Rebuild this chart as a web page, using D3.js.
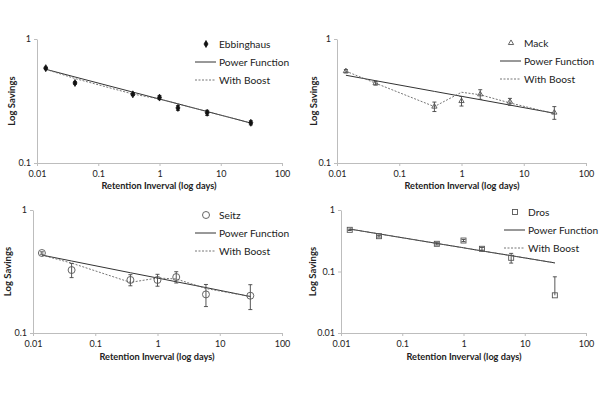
<!DOCTYPE html>
<html><head><meta charset="utf-8">
<script src="https://cdn.jsdelivr.net/npm/d3@7"></script>
<style>body{margin:0;background:#fff}svg{display:block}text{font-family:Lato,"Open Sans",sans-serif;fill:#222}</style>
</head><body><svg id="c" width="600" height="398"></svg>
<script>
const days = [0.0139, 0.0417, 0.367, 1, 2, 6, 31];
const xTicks = [0.01, 0.1, 1, 10, 100];
const xTickLabels = ["0.01", "0.1", "1", "10", "100"];

const ebbSavings = [0.582, 0.442, 0.358, 0.337, 0.278, 0.254, 0.211];
const ebbErr     = [0.01, 0.01, 0.008, 0.012, 0.012, 0.012, 0.008];
const ebbPower   = [0.570, 0.494, 0.373, 0.328, 0.300, 0.260, 0.210];
const ebbBoost   = [0.570, 0.480, 0.360, 0.328, 0.300, 0.260, 0.210];

const mackSavings = [0.55, 0.44, 0.285, 0.316, 0.358, 0.312, 0.255];
const mackErr     = [0.017, 0.015, 0.025, 0.028, 0.032, 0.02, 0.03];
const mackPower   = [0.510, 0.461, 0.378, 0.345, 0.324, 0.293, 0.252];
const mackBoost   = [0.550, 0.440, 0.285, 0.372, 0.355, 0.305, 0.250];

const seitzSavings = [0.447, 0.325, 0.27, 0.27, 0.285, 0.206, 0.201];
const seitzErr     = [0.01, 0.043, 0.028, 0.03, 0.03, 0.042, 0.046];
const seitzPower   = [0.430, 0.385, 0.309, 0.280, 0.261, 0.234, 0.198];
const seitzBoost   = [0.430, 0.370, 0.258, 0.280, 0.275, 0.230, 0.198];

const drosSavings = [0.476, 0.375, 0.282, 0.319, 0.234, 0.167, 0.041];
const drosErr     = [0.012, 0.012, 0.012, 0.012, 0.012, 0.03, 0.041];
const drosPower   = [0.490, 0.409, 0.286, 0.243, 0.216, 0.181, 0.138];
const drosBoost   = [0.490, 0.409, 0.286, 0.243, 0.216, 0.181, 0.138];

const legendLabels = ["Power Function", "With Boost"];
const xTitle = "Retention Inverval (log days)";
const yTitle = "Log Savings";

const panels = [
  {name:"Ebbinghaus", sym:"diamond", fill:"#111", stroke:"#111", vals:ebbSavings, err:ebbErr, power:ebbPower, boost:ebbBoost,
   x0:37, x1:282, yTop:39, yBot:163, yDomain:[0.1,1], yTicks:[0.1,1], yTickLabels:["0.1","1"], ytX:12, xtY:189, xtX:159, lx:195, ly:44},
  {name:"Mack", sym:"triangle", fill:"none", stroke:"#555", vals:mackSavings, err:mackErr, power:mackPower, boost:mackBoost,
   x0:337, x1:586, yTop:39, yBot:163, yDomain:[0.1,1], yTicks:[0.1,1], yTickLabels:["0.1","1"], ytX:314, xtY:189, xtX:462, lx:500, ly:43},
  {name:"Seitz", sym:"circle", fill:"none", stroke:"#555", vals:seitzSavings, err:seitzErr, power:seitzPower, boost:seitzBoost,
   x0:33, x1:282, yTop:210, yBot:333, yDomain:[0.1,1], yTicks:[0.1,1], yTickLabels:["0.1","1"], ytX:8, xtY:360, xtX:157, lx:195, ly:215},
  {name:"Dros", sym:"square", fill:"none", stroke:"#555", vals:drosSavings, err:drosErr, power:drosPower, boost:drosBoost,
   x0:341, x1:586, yTop:210, yBot:333, yDomain:[0.01,1], yTicks:[0.01,0.1,1], yTickLabels:["0.01","0.1","1"], ytX:313, xtY:360, xtX:464, lx:504, ly:212}
];

const svg = d3.select("#c");
const axisCol = "#bdbdbd";

function marker(g, sym, cx, cy, fill, stroke){
  if(sym==="diamond"){
    g.append("path").attr("d", d3.symbol(d3.symbolDiamond, 14)()).attr("transform",`translate(${cx},${cy})`).attr("fill",fill).attr("stroke",stroke).attr("stroke-width",0.8);
  } else if(sym==="triangle"){
    g.append("path").attr("d", d3.symbol(d3.symbolTriangle, 12)()).attr("transform",`translate(${cx},${cy})`).attr("fill",fill).attr("stroke",stroke).attr("stroke-width",0.9);
  } else if(sym==="circle"){
    g.append("circle").attr("cx",cx).attr("cy",cy).attr("r",3.5).attr("fill","none").attr("stroke",stroke).attr("stroke-width",0.9);
  } else {
    g.append("rect").attr("x",cx-2.5).attr("y",cy-2.5).attr("width",5).attr("height",5).attr("fill","none").attr("stroke",stroke).attr("stroke-width",0.9);
  }
}

panels.forEach(p => {
  const g = svg.append("g");
  const x = d3.scaleLog().domain([0.01,100]).range([p.x0,p.x1]);
  const y = d3.scaleLog().domain(p.yDomain).range([p.yBot,p.yTop]);

  const xa = g.append("g").attr("transform",`translate(0,${p.yBot})`)
    .call(d3.axisBottom(x).tickValues(xTicks).tickFormat((d,i)=>xTickLabels[i]).tickSize(3).tickSizeOuter(0));
  xa.select(".domain").attr("stroke",axisCol);
  xa.selectAll(".tick line").attr("stroke",axisCol);
  xa.selectAll(".tick text").attr("font-size",9).attr("fill","#333").attr("dy","0.9em");

  const ya = g.append("g").attr("transform",`translate(${p.x0},0)`)
    .call(d3.axisLeft(y).tickValues(p.yTicks).tickFormat((d,i)=>p.yTickLabels[i]).tickSize(3).tickSizeOuter(0));
  ya.select(".domain").attr("stroke",axisCol);
  ya.selectAll(".tick line").attr("stroke",axisCol);
  ya.selectAll(".tick text").attr("font-size",9).attr("fill","#333");
  g.selectAll(".domain").attr("stroke-width",1);

  g.append("text").attr("x",p.xtX).attr("y",p.xtY).attr("text-anchor","middle").attr("font-size",9.2).attr("font-weight","bold").text(xTitle);
  g.append("text").attr("transform",`translate(${p.ytX+3},${(p.yTop+p.yBot)/2}) rotate(-90)`).attr("text-anchor","middle").attr("font-size",9.5).attr("font-weight","bold").text(yTitle);

  const line = d3.line().x((d,i)=>x(days[i])).y(d=>y(d));
  g.append("path").attr("d",line(p.power)).attr("fill","none").attr("stroke","#333").attr("stroke-width",1);
  g.append("path").attr("d",line(p.boost)).attr("fill","none").attr("stroke","#666").attr("stroke-width",0.9).attr("stroke-dasharray","2,1.5");

  p.vals.forEach((v,i)=>{
    const cx = x(days[i]);
    const hi = y(v + p.err[i]);
    const hasLo = (v - p.err[i]) > p.yDomain[0]*1.01;
    const lo = hasLo ? y(v - p.err[i]) : y(v);
    const col = p.name==="Ebbinghaus" ? "#222" : "#444";
    g.append("line").attr("x1",cx).attr("x2",cx).attr("y1",hi).attr("y2",lo).attr("stroke",col).attr("stroke-width",0.9);
    g.append("line").attr("x1",cx-2).attr("x2",cx+2).attr("y1",hi).attr("y2",hi).attr("stroke",col).attr("stroke-width",0.9);
    if(hasLo)
      g.append("line").attr("x1",cx-2).attr("x2",cx+2).attr("y1",lo).attr("y2",lo).attr("stroke",col).attr("stroke-width",0.9);
    marker(g, p.sym, cx, y(v), p.fill, p.stroke);
  });

  const lg = g.append("g");
  marker(lg, p.sym, p.lx+11, p.ly, p.fill, p.stroke);
  lg.append("text").attr("x",p.lx+24).attr("y",p.ly).attr("dy","0.35em").attr("font-size",10.2).text(p.name);
  lg.append("line").attr("x1",p.lx).attr("x2",p.lx+21).attr("y1",p.ly+18).attr("y2",p.ly+18).attr("stroke","#333").attr("stroke-width",1);
  lg.append("text").attr("x",p.lx+24).attr("y",p.ly+18).attr("dy","0.35em").attr("font-size",10.2).text(legendLabels[0]);
  lg.append("line").attr("x1",p.lx).attr("x2",p.lx+21).attr("y1",p.ly+36).attr("y2",p.ly+36).attr("stroke","#666").attr("stroke-width",0.9).attr("stroke-dasharray","2,1.5");
  lg.append("text").attr("x",p.lx+24).attr("y",p.ly+36).attr("dy","0.35em").attr("font-size",10.2).text(legendLabels[1]);
});
</script></body></html>
